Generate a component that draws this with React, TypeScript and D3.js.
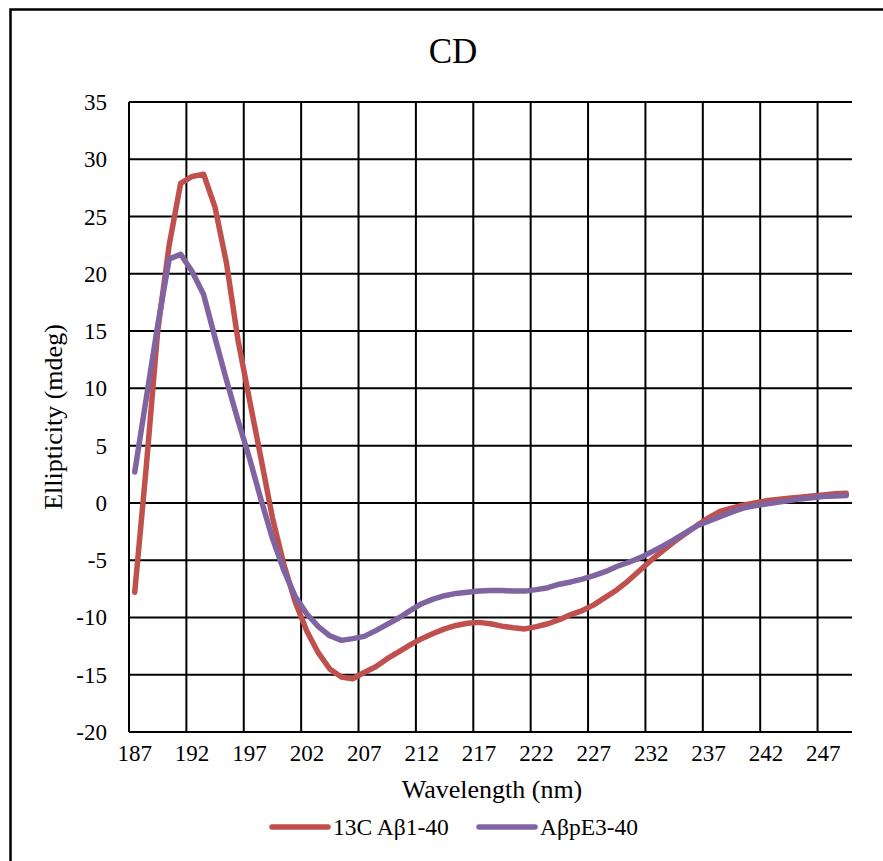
import React, { useRef, useEffect } from "react";
import { select, scaleBand, scaleLinear, line, curveLinear } from "d3";

// wavelengths (nm), one category per nm
const wavelengths = [
  187, 188, 189, 190, 191, 192, 193, 194, 195, 196, 197, 198, 199, 200, 201, 202,
  203, 204, 205, 206, 207, 208, 209, 210, 211, 212, 213, 214, 215, 216, 217, 218,
  219, 220, 221, 222, 223, 224, 225, 226, 227, 228, 229, 230, 231, 232, 233, 234,
  235, 236, 237, 238, 239, 240, 241, 242, 243, 244, 245, 246, 247, 248, 249,
];

// 13C Abeta1-40
const ab140 = [
  -7.8, 3.1, 15.0, 22.5, 27.9, 28.5, 28.7, 25.8, 20.9, 14.2, 9.0, 3.9, -1.3, -5.4, -8.7, -11.2,
  -13.1, -14.5, -15.2, -15.35, -14.8, -14.3, -13.6, -13.0, -12.4, -11.85, -11.4, -11.0, -10.7, -10.5, -10.43, -10.55,
  -10.76, -10.9, -11.0, -10.8, -10.55, -10.2, -9.75, -9.4, -8.9, -8.25, -7.6, -6.8, -5.9, -5.0, -4.18, -3.4,
  -2.68, -1.96, -1.3, -0.74, -0.45, -0.19, 0.0, 0.18, 0.3, 0.4, 0.5, 0.6, 0.7, 0.8, 0.85,
];

// AbetapE3-40
const abpE340 = [
  2.7, 9.1, 15.5, 21.3, 21.7, 20.2, 18.2, 14.4, 10.7, 7.2, 3.9, 0.3, -3.1, -5.9, -8.2, -9.7,
  -10.8, -11.6, -12.0, -11.85, -11.65, -11.15, -10.6, -10.05, -9.4, -8.8, -8.4, -8.1, -7.9, -7.8, -7.7, -7.65,
  -7.65, -7.7, -7.7, -7.57, -7.4, -7.1, -6.9, -6.65, -6.35, -6.0, -5.55, -5.2, -4.8, -4.3, -3.77, -3.2,
  -2.6, -2.0, -1.6, -1.2, -0.8, -0.45, -0.25, -0.1, 0.06, 0.2, 0.35, 0.45, 0.55, 0.6, 0.65,
];

const xTickLabels = [187, 192, 197, 202, 207, 212, 217, 222, 227, 232, 237, 242, 247];
const yTicks = [-20, -15, -10, -5, 0, 5, 10, 15, 20, 25, 30, 35];

const series = [
  { name: "13C Aβ1-40", values: ab140, color: "#C0504D" },
  { name: "AβpE3-40", values: abpE340, color: "#8064A2" },
];

const FONT = "Liberation Serif, Times New Roman, serif";

function CDChart() {
  const svgRef = useRef(null);

  useEffect(() => {
    const svg = select(svgRef.current);
    svg.selectAll("*").remove();

    const left = 129, right = 852, top = 102, bottom = 732;

    const xScale = scaleBand()
      .domain(wavelengths.map(String))
      .range([left, right])
      .padding(0);
    const bw = xScale.bandwidth();
    const yScale = scaleLinear().domain([-20, 35]).range([bottom, top]);

    svg.append("rect").attr("width", 883).attr("height", 861).attr("fill", "#fff");

    // outer chart border (runs off the page on the right and bottom)
    svg
      .append("rect")
      .attr("x", 10.5)
      .attr("y", 9.5)
      .attr("width", 900)
      .attr("height", 900)
      .attr("fill", "none")
      .attr("stroke", "#000")
      .attr("stroke-width", 2.5);

    svg
      .append("text")
      .attr("x", 453)
      .attr("y", 63)
      .attr("text-anchor", "middle")
      .attr("font-family", FONT)
      .attr("font-size", 35)
      .text("CD");

    // horizontal gridlines
    svg
      .selectAll(".hgrid")
      .data(yTicks)
      .join("line")
      .attr("class", "hgrid")
      .attr("x1", left)
      .attr("x2", right)
      .attr("y1", d => yScale(d))
      .attr("y2", d => yScale(d))
      .attr("stroke", "#000")
      .attr("stroke-width", 2);

    // vertical gridlines at category boundaries
    svg
      .selectAll(".vgrid")
      .data(xTickLabels)
      .join("line")
      .attr("class", "vgrid")
      .attr("x1", d => xScale(String(d)))
      .attr("x2", d => xScale(String(d)))
      .attr("y1", top)
      .attr("y2", bottom)
      .attr("stroke", "#000")
      .attr("stroke-width", 2);

    svg
      .selectAll(".ylab")
      .data(yTicks)
      .join("text")
      .attr("class", "ylab")
      .attr("x", 107)
      .attr("y", d => yScale(d) + 8)
      .attr("text-anchor", "end")
      .attr("font-family", FONT)
      .attr("font-size", 23)
      .text(d => d);

    svg
      .selectAll(".xlab")
      .data(xTickLabels)
      .join("text")
      .attr("class", "xlab")
      .attr("x", d => xScale(String(d)) + bw / 2)
      .attr("y", 761)
      .attr("text-anchor", "middle")
      .attr("font-family", FONT)
      .attr("font-size", 23)
      .text(d => d);

    svg
      .append("text")
      .attr("x", 492)
      .attr("y", 798)
      .attr("text-anchor", "middle")
      .attr("font-family", FONT)
      .attr("font-size", 26)
      .text("Wavelength (nm)");

    svg
      .append("text")
      .attr("transform", `translate(62,${(top + bottom) / 2}) rotate(-90)`)
      .attr("text-anchor", "middle")
      .attr("font-family", FONT)
      .attr("font-size", 26)
      .text("Ellipticity (mdeg)");

    const path = line()
      .x((d, i) => xScale(String(wavelengths[i])) + bw / 2)
      .y(d => yScale(d))
      .curve(curveLinear);

    svg
      .selectAll(".series")
      .data(series)
      .join("path")
      .attr("class", "series")
      .attr("d", d => path(d.values))
      .attr("fill", "none")
      .attr("stroke", d => d.color)
      .attr("stroke-width", 5.5)
      .attr("stroke-linejoin", "round")
      .attr("stroke-linecap", "round");

    // legend
    const legendX = [272, 479];
    const lg = svg
      .selectAll(".legend")
      .data(series)
      .join("g")
      .attr("class", "legend")
      .attr("transform", (d, i) => `translate(${legendX[i]},827)`);
    lg.append("line")
      .attr("x1", 0)
      .attr("x2", 56)
      .attr("stroke", d => d.color)
      .attr("stroke-width", 5.5)
      .attr("stroke-linecap", "round");
    lg.append("text")
      .attr("x", 61)
      .attr("y", 8)
      .attr("font-family", FONT)
      .attr("font-size", 23.5)
      .text(d => d.name);
  }, []);

  return <svg ref={svgRef} width={883} height={861} style={{ position: "absolute", left: 0, top: 0 }}></svg>;
}

export default function App() {
  return <CDChart />;
}
